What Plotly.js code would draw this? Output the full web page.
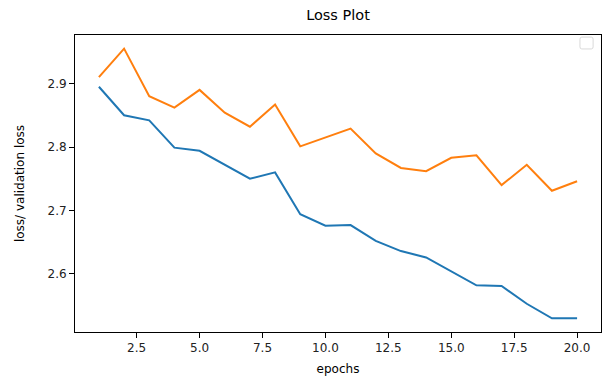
<!DOCTYPE html>
<html><head><meta charset="utf-8">
<script src="https://cdn.plot.ly/plotly-3.0.1.min.js"></script>
<style>html,body{margin:0;padding:0;background:#fff}#c{width:612px;height:381px}</style>
</head><body><div id="c"></div>
<script>
const epochs = [1,2,3,4,5,6,7,8,9,10,11,12,13,14,15,16,17,18,19,20];
const loss = [2.895,2.850,2.842,2.799,2.794,2.772,2.750,2.760,2.694,2.676,2.677,2.652,2.636,2.626,2.604,2.582,2.581,2.553,2.530,2.530];
const valLoss = [2.910,2.955,2.880,2.862,2.890,2.854,2.832,2.867,2.801,2.815,2.829,2.790,2.767,2.762,2.783,2.787,2.740,2.772,2.731,2.746];
const xTicks = [2.5,5.0,7.5,10.0,12.5,15.0,17.5,20.0];
const yTicks = [2.6,2.7,2.8,2.9];

const font = 'DejaVu Sans, sans-serif';
const traces = [
  {x: epochs, y: loss, type:'scatter', mode:'lines', line:{color:'#1f77b4', width:2}, showlegend:false},
  {x: epochs, y: valLoss, type:'scatter', mode:'lines', line:{color:'#ff7f0e', width:2}, showlegend:false}
];
const axisCommon = {showline:true, mirror:true, linecolor:'#000', linewidth:1, ticks:'outside', ticklen:5, tickcolor:'#000', showgrid:false, zeroline:false, tickfont:{family:font, size:12, color:'#222'}};
const layout = {
  width:612, height:381,
  margin:{l:75, r:11, t:35, b:49},
  paper_bgcolor:'#fff', plot_bgcolor:'#fff',
  title:{text:'Loss Plot', font:{family:font, size:14.5, color:'#000'}, x:0.5, xanchor:'center', y:0.96, yanchor:'middle', xref:'paper'},
  xaxis: Object.assign({}, axisCommon, {range:[0.05,20.95], tickvals:xTicks, ticktext:xTicks.map(v=>v.toFixed(1)), title:{text:'epochs', font:{family:font, size:12, color:'#000'}, standoff:10}}),
  yaxis: Object.assign({}, axisCommon, {range:[2.5085,2.9765], tickvals:yTicks, ticktext:yTicks.map(v=>v.toFixed(1)), title:{text:'loss/ validation loss', font:{family:font, size:12, color:'#000'}, standoff:20}}),
  shapes:[{type:'path', xref:'paper', yref:'paper', path:'M0.9635,0.953 L0.9815,0.953 Q0.985,0.953 0.985,0.960 L0.985,0.986 Q0.985,0.993 0.9815,0.993 L0.9635,0.993 Q0.960,0.993 0.960,0.986 L0.960,0.960 Q0.960,0.953 0.9635,0.953 Z', line:{color:'#d9d9d9', width:1}, fillcolor:'rgba(255,255,255,0.8)'}]
};
Plotly.newPlot('c', traces, layout, {displayModeBar:false, staticPlot:true});
</script></body></html>
